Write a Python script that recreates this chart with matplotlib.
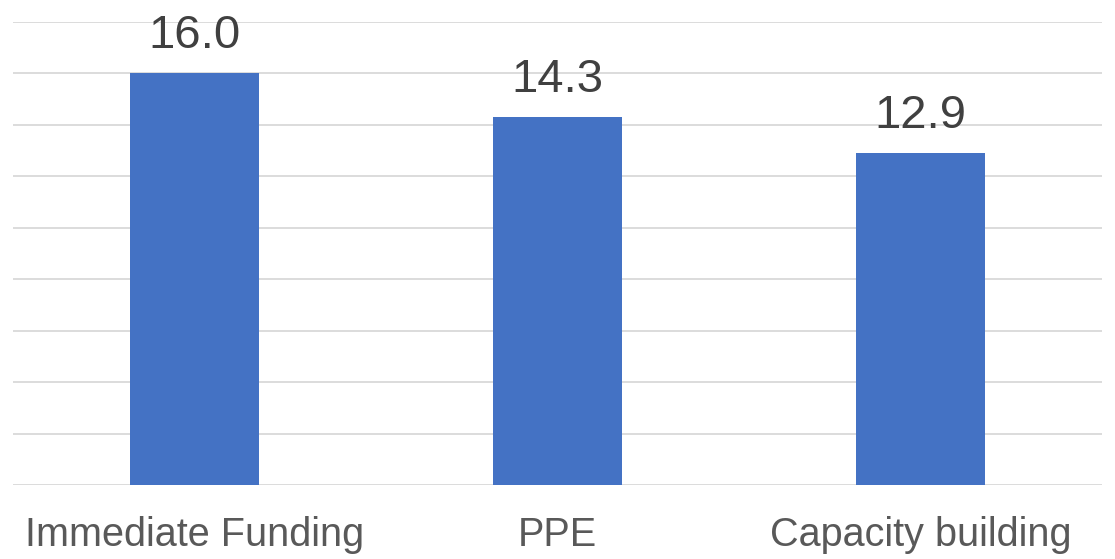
import matplotlib.pyplot as plt

categories = ['Immediate Funding', 'PPE', 'Capacity building']
values = [16.0, 14.3, 12.9]

plt.rcParams['font.family'] = ['Liberation Sans', 'DejaVu Sans']

fig = plt.figure(figsize=(11.15, 5.59), dpi=100)
ax = fig.add_axes([13 / 1115, 1 - 485 / 559, (1102 - 13) / 1115, (485 - 22) / 559])

x = range(len(categories))
bars = ax.bar(x, values, width=0.353, color='#4472C4', zorder=3)

ax.set_xlim(-0.5, len(categories) - 0.5)
ax.set_ylim(0, 18)
ax.set_yticks(range(0, 19, 2))
ax.yaxis.grid(True, color='#D9D9D9', linewidth=1.3, zorder=0)
ax.tick_params(axis='y', left=False, labelleft=False)
ax.tick_params(axis='x', length=0, pad=22, labelsize=28.5, labelcolor='#595959')
ax.set_xticks(list(x))
ax.set_xticklabels(categories)
for s in ax.spines.values():
    s.set_visible(False)

for b, v in zip(bars, values):
    ax.annotate(f'{v:.1f}', (b.get_x() + b.get_width() / 2, v),
                xytext=(0, 11), textcoords='offset points',
                ha='center', va='bottom', fontsize=34, color='#404040')

fig.savefig('out.png', dpi=100)
